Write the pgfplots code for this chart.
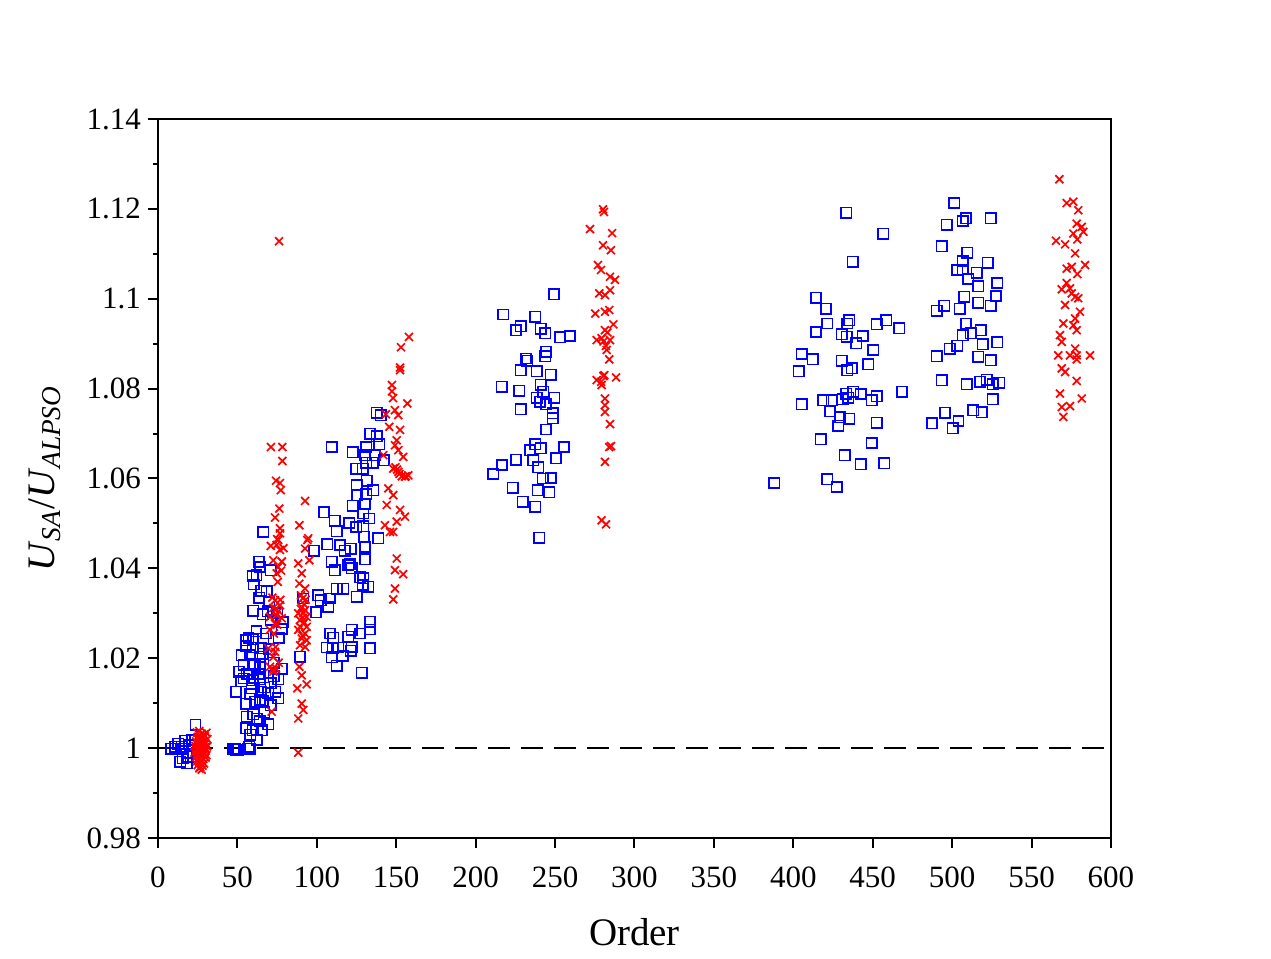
\documentclass[border=0pt]{standalone}
\usepackage{fontspec}
\setmainfont{Liberation Serif}
\usepackage{pgfplots}
\pgfplotsset{compat=1.18}
\usepackage{pgfplotstable}

% SA results (blue squares)
\pgfplotstableread{
x y
23.6 1.0052
8.2 0.9999
12.8 1.0010
14.9 1.0003
18.1 0.9988
13.9 0.9970
18.1 0.9966
19.1 0.9981
10.7 1.0003
15.9 0.9999
15.6 0.9977
20.1 1.0007
21.4 1.0018
17.0 1.0016
48.5 0.9999
50.6 0.9996
56.9 0.9999
66.3 1.0481
63.6 1.0415
64.2 1.0403
59.6 1.0383
60.4 1.0364
68.4 1.0349
63.8 1.0335
71.1 1.0396
60.0 1.0306
65.9 1.0298
71.0 1.0285
78.5 1.0280
55.4 1.0240
60.0 1.0242
66.3 1.0244
52.7 1.0207
57.9 1.0207
64.2 1.0203
55.4 1.0227
59.6 1.0224
64.7 1.0222
54.1 1.0185
59.6 1.0187
64.2 1.0181
77.9 1.0177
52.4 1.0149
59.6 1.0151
64.2 1.0153
71.0 1.0144
75.7 1.0153
49.1 1.0125
59.0 1.0133
64.7 1.0125
69.4 1.0123
55.4 1.0099
61.1 1.0103
64.2 1.0107
75.7 1.0111
55.8 1.0070
62.1 1.0066
69.4 1.0053
55.4 1.0044
59.6 1.0040
65.3 1.0040
62.1 1.0018
57.5 1.0003
47.4 0.9999
49.1 0.9996
57.9 0.9999
57.0 1.0245
62.0 1.0260
68.0 1.0255
70.0 1.0220
73.0 1.0190
66.0 1.0210
61.0 1.0185
56.0 1.0165
63.0 1.0165
67.0 1.0135
73.0 1.0160
58.0 1.0120
66.0 1.0105
71.0 1.0095
60.0 1.0075
64.0 1.0060
58.0 1.0030
67.0 1.0080
74.0 1.0125
70.0 1.0325
75.0 1.0300
78.0 1.0265
69.0 1.0305
65.0 1.0350
62.0 1.0385
76.0 1.0245
54.0 1.0155
51.0 1.0170
137.7 1.0746
140.2 1.0741
133.5 1.0700
137.7 1.0694
109.4 1.0670
122.6 1.0658
131.0 1.0670
139.3 1.0676
130.3 1.0652
136.6 1.0652
124.7 1.0622
128.9 1.0622
131.0 1.0635
142.3 1.0641
135.2 1.0635
125.1 1.0585
131.4 1.0595
135.6 1.0574
125.5 1.0563
131.0 1.0565
122.6 1.0539
130.3 1.0543
104.5 1.0525
111.4 1.0506
129.3 1.0522
133.0 1.0511
120.3 1.0501
124.7 1.0492
129.3 1.0494
112.5 1.0483
129.7 1.0470
138.7 1.0467
106.6 1.0454
114.6 1.0452
121.3 1.0444
117.7 1.0439
130.3 1.0448
98.2 1.0439
130.3 1.0420
109.4 1.0415
120.9 1.0409
111.4 1.0396
119.8 1.0407
122.0 1.0400
127.2 1.0380
129.3 1.0378
132.4 1.0359
128.9 1.0363
100.9 1.0340
112.5 1.0355
116.7 1.0355
108.3 1.0333
102.4 1.0329
125.1 1.0337
99.5 1.0302
107.2 1.0314
133.5 1.0281
133.5 1.0264
108.3 1.0255
110.4 1.0246
122.0 1.0263
127.2 1.0255
119.8 1.0248
106.2 1.0224
110.0 1.0222
113.5 1.0224
122.0 1.0225
133.5 1.0222
109.4 1.0202
116.3 1.0205
121.3 1.0217
112.5 1.0183
128.2 1.0168
89.4 1.0203
91.5 1.0333
249.3 1.1010
217.4 1.0965
237.4 1.0960
228.4 1.0939
225.4 1.0930
240.9 1.0933
243.7 1.0923
253.1 1.0914
259.4 1.0917
244.3 1.0882
243.7 1.0872
231.7 1.0867
232.5 1.0862
228.4 1.0841
238.4 1.0839
247.4 1.0831
216.4 1.0804
241.1 1.0809
227.5 1.0795
242.6 1.0793
238.4 1.0780
240.5 1.0771
249.5 1.0780
244.3 1.0765
228.4 1.0754
248.5 1.0745
248.5 1.0734
244.3 1.0709
237.4 1.0676
234.2 1.0663
241.1 1.0667
255.6 1.0670
225.4 1.0642
236.3 1.0641
250.6 1.0645
216.6 1.0630
211.1 1.0610
239.4 1.0625
242.2 1.0600
247.4 1.0601
223.3 1.0579
239.1 1.0574
246.4 1.0569
229.6 1.0548
237.4 1.0537
240.1 1.0468
433.2 1.1191
456.7 1.1145
437.4 1.1082
414.3 1.1002
420.6 1.0978
421.4 1.0945
435.2 1.0952
434.0 1.0945
452.5 1.0943
458.4 1.0952
414.3 1.0926
466.7 1.0934
430.5 1.0921
433.6 1.0915
443.7 1.0917
439.5 1.0901
450.4 1.0886
405.3 1.0877
412.2 1.0865
430.5 1.0862
436.8 1.0845
434.0 1.0841
447.2 1.0854
403.4 1.0839
468.4 1.0793
437.8 1.0793
433.2 1.0789
442.4 1.0788
452.5 1.0783
418.9 1.0774
424.2 1.0774
431.1 1.0776
434.6 1.0780
449.3 1.0774
405.3 1.0765
423.1 1.0750
429.4 1.0736
435.2 1.0733
428.3 1.0717
452.5 1.0724
417.2 1.0687
449.3 1.0679
432.5 1.0652
442.4 1.0632
457.3 1.0634
388.0 1.0590
421.4 1.0598
427.3 1.0581
501.2 1.1213
508.7 1.1179
506.6 1.1173
524.3 1.1179
496.6 1.1165
493.4 1.1117
509.5 1.1102
506.6 1.1084
522.4 1.1080
503.2 1.1064
506.6 1.1065
515.5 1.1058
510.2 1.1044
528.4 1.1035
516.5 1.1028
527.6 1.1006
507.5 1.1004
516.5 1.0991
524.3 1.0984
494.9 1.0984
490.3 1.0973
504.9 1.0978
508.7 1.0945
518.0 1.0930
511.7 1.0923
506.6 1.0919
519.2 1.0899
528.4 1.0903
503.2 1.0895
498.6 1.0889
490.3 1.0872
516.5 1.0871
524.3 1.0863
493.4 1.0819
509.2 1.0810
517.5 1.0815
521.7 1.0820
529.7 1.0813
525.5 1.0810
525.5 1.0776
513.3 1.0752
518.6 1.0747
495.5 1.0746
504.0 1.0728
487.3 1.0723
500.3 1.0712
}\sadata

% ALPSO-based results (red crosses)
\pgfplotstableread{
x y
24.5 1.0035
26.0 1.0038
27.5 1.0032
29.0 1.0030
30.5 1.0034
25.0 1.0025
26.5 1.0028
28.0 1.0022
29.5 1.0026
31.0 1.0020
24.0 1.0015
25.5 1.0018
27.0 1.0012
28.5 1.0016
30.0 1.0010
23.5 1.0005
25.0 1.0008
26.5 1.0003
28.0 1.0006
29.5 1.0002
31.0 1.0004
24.0 0.9997
25.5 0.9994
27.0 0.9998
28.5 0.9993
30.0 0.9996
23.0 0.9990
24.5 0.9987
26.0 0.9990
27.5 0.9985
29.0 0.9988
30.5 0.9984
24.0 0.9980
25.5 0.9977
27.0 0.9981
28.5 0.9976
30.0 0.9979
24.5 0.9971
26.0 0.9968
27.5 0.9972
29.0 0.9966
25.0 0.9962
26.5 0.9958
28.0 0.9961
26.0 0.9955
27.5 0.9952
29.5 1.0001
26.8 1.0010
25.2 1.0002
28.2 0.9999
71.1 1.0670
78.3 1.0670
78.3 1.0639
74.3 1.0595
76.8 1.0590
77.3 1.0574
76.4 1.0533
73.7 1.0513
76.8 1.0489
76.8 1.0478
75.7 1.0463
74.7 1.0452
76.8 1.0441
72.6 1.0418
77.9 1.0415
75.7 1.0403
74.7 1.0389
75.4 1.0370
73.7 1.0329
76.8 1.0318
72.6 1.0312
70.5 1.0292
74.7 1.0296
77.9 1.0289
73.7 1.0277
70.5 1.0263
73.0 1.0255
69.4 1.0222
73.7 1.0214
72.6 1.0203
70.5 1.0181
72.6 1.0170
74.3 1.0177
71.6 1.0081
76.2 1.1128
74.5 1.0310
76.0 1.0305
72.0 1.0335
77.0 1.0330
75.0 1.0275
78.0 1.0415
77.5 1.0395
71.0 1.0450
79.0 1.0445
75.0 1.0465
72.5 1.0175
76.0 1.0190
74.0 1.0225
92.6 1.0550
89.0 1.0496
94.6 1.0467
94.0 1.0463
92.6 1.0444
95.3 1.0418
88.3 1.0411
90.5 1.0389
89.0 1.0366
92.6 1.0355
91.1 1.0333
90.5 1.0314
92.6 1.0307
88.3 1.0300
93.6 1.0292
89.4 1.0285
91.5 1.0277
93.6 1.0270
88.3 1.0263
92.6 1.0255
90.5 1.0244
93.6 1.0240
89.4 1.0229
92.6 1.0225
89.0 1.0181
90.5 1.0162
93.6 1.0142
87.7 1.0133
90.5 1.0099
91.5 1.0085
88.3 1.0066
88.3 0.9990
90.0 1.0310
91.0 1.0290
92.0 1.0320
89.5 1.0270
91.0 1.0250
92.0 1.0280
93.0 1.0330
90.0 1.0340
91.5 1.0300
158.0 1.0915
153.0 1.0892
152.4 1.0847
152.4 1.0841
147.3 1.0808
147.3 1.0794
148.0 1.0779
157.0 1.0767
149.2 1.0752
151.3 1.0741
143.5 1.0743
145.6 1.0715
152.4 1.0708
150.3 1.0685
149.2 1.0674
151.3 1.0663
154.4 1.0648
141.9 1.0652
148.1 1.0622
151.3 1.0615
155.5 1.0604
157.6 1.0607
145.0 1.0578
148.1 1.0563
144.0 1.0541
152.4 1.0530
155.5 1.0515
150.3 1.0504
148.1 1.0481
146.1 1.0481
142.9 1.0496
150.3 1.0422
149.2 1.0396
154.4 1.0387
149.2 1.0355
148.1 1.0331
150.5 1.0620
152.0 1.0610
153.5 1.0605
149.5 1.0625
156.0 1.0605
280.2 1.1199
280.8 1.1193
272.0 1.1155
285.9 1.1146
280.2 1.1119
285.2 1.1108
277.0 1.1075
278.9 1.1064
284.6 1.1049
287.7 1.1042
277.8 1.1012
284.6 1.1019
281.4 1.1008
275.3 1.0967
281.4 1.0971
284.1 1.0975
286.7 1.0943
281.4 1.0930
276.2 1.0908
279.3 1.0912
284.6 1.0908
282.5 1.0886
284.1 1.0865
276.2 1.0819
280.4 1.0828
288.4 1.0825
279.3 1.0808
281.4 1.0778
281.4 1.0763
281.4 1.0748
284.6 1.0721
284.1 1.0670
285.2 1.0672
281.4 1.0637
279.3 1.0507
282.1 1.0498
280.5 1.0905
283.0 1.0925
279.0 1.0815
282.0 1.0895
281.0 1.0830
567.5 1.1266
572.1 1.1213
576.3 1.1216
579.4 1.1197
578.4 1.1167
581.6 1.1160
582.6 1.1149
576.3 1.1145
578.8 1.1132
565.4 1.1129
571.1 1.1121
577.4 1.1101
583.7 1.1075
572.1 1.1067
575.3 1.1071
578.8 1.1055
572.1 1.1035
569.0 1.1021
574.2 1.1023
575.3 1.1012
577.4 1.1004
579.4 1.1001
571.1 1.0986
580.5 1.0971
577.4 1.0956
570.0 1.0945
576.3 1.0941
578.4 1.0930
567.9 1.0919
569.0 1.0904
577.4 1.0889
566.8 1.0874
574.2 1.0874
578.4 1.0874
586.8 1.0874
578.4 1.0865
569.0 1.0845
571.1 1.0837
578.4 1.0817
567.9 1.0789
581.6 1.0778
569.0 1.0759
574.2 1.0761
570.0 1.0737
}\alpsodata

\begin{document}
\begin{tikzpicture}
\useasboundingbox (-79pt,-60.5pt) rectangle (556.5pt,419pt);
\begin{axis}[
  at={(0,0)}, anchor=south west,
  scale only axis, width=476.5pt, height=359.5pt,
  xmin=0, xmax=600, ymin=0.98, ymax=1.14,
  xtick={0,50,...,600},
  ytick={0.98,1,1.02,1.04,1.06,1.08,1.1,1.12,1.14},
  minor ytick={0.99,1.01,1.03,1.05,1.07,1.09,1.11,1.13},
  tick align=outside, tick pos=left,
  major tick length=5pt, minor tick length=2.5pt,
  axis line style={line width=1pt},
  tick style={line width=1pt, black},
  ticklabel style={font=\fontsize{15.5}{18}\selectfont},
  xticklabel style={/pgf/number format/assume math mode=true, yshift=-6pt},
  yticklabel style={/pgf/number format/.cd, fixed, precision=2, assume math mode=true},
  xlabel={Order},
  ylabel={\textit{U}\textsubscript{\textit{SA}}/\textit{U}\textsubscript{\textit{ALPSO}}},
  label style={font=\fontsize{19.5}{23}\selectfont},
  xlabel style={at={(axis description cs:0.5,0)}, anchor=center, yshift=-47pt},
  ylabel style={at={(axis description cs:0,0.5)}, anchor=center, yshift=56.5pt},
  clip=true,
]
\addplot[only marks, mark=square, mark size=2.6pt, color={rgb,255:red,0;green,0;blue,255},
  mark options={line width=0.75pt}] table[x=x, y=y] {\sadata};
\addplot[only marks, mark=x, mark size=2.8pt, color={rgb,255:red,255;green,0;blue,0},
  mark options={line width=0.85pt}] table[x=x, y=y] {\alpsodata};
\addplot[black, line width=0.8pt, dash pattern=on 11pt off 5.5pt] coordinates {(0,1) (600,1)};
\end{axis}
\end{tikzpicture}
\end{document}
